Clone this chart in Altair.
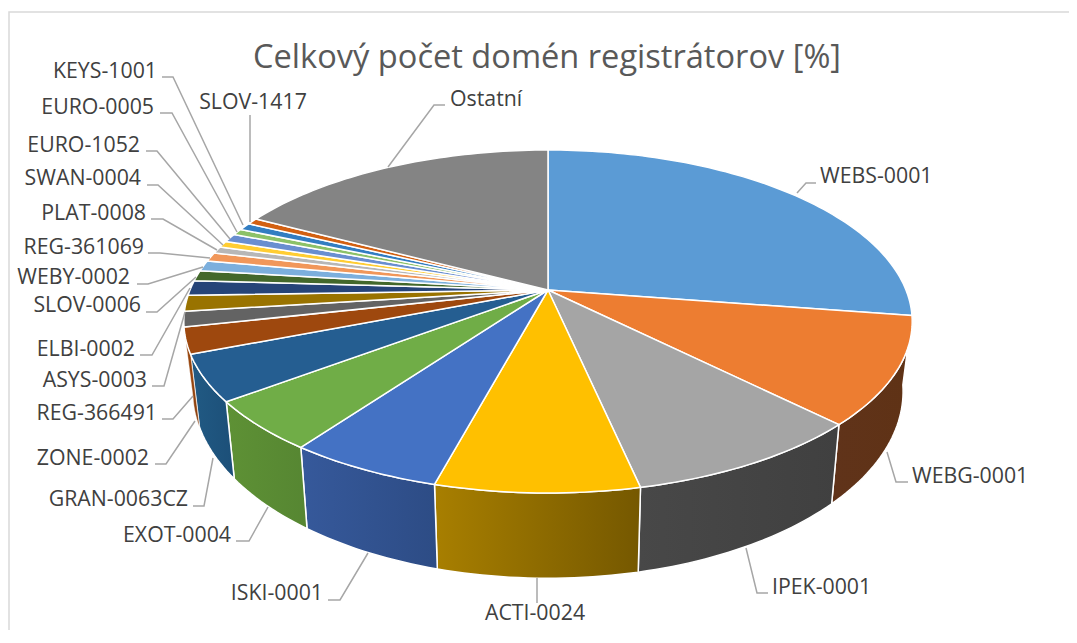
import math
import altair as alt
import pandas as pd

TITLE = "Celkový počet domén registrátorov [%]"
names = ["WEBS-0001", "WEBG-0001", "IPEK-0001", "ACTI-0024", "ISKI-0001", "EXOT-0004",
         "GRAN-0063CZ", "ZONE-0002", "REG-366491", "ASYS-0003", "ELBI-0002", "SLOV-0006",
         "WEBY-0002", "REG-361069", "PLAT-0008", "SWAN-0004", "EURO-1052", "EURO-0005",
         "KEYS-1001", "SLOV-1417", "Ostatní"]
shares = [27.4, 10.1, 9.1, 7.6, 5.8, 4.75, 4.35, 2.46, 1.44, 1.5, 1.4, 1.0,
          1.0, 0.85, 0.65, 0.6, 0.8, 0.6, 0.7, 0.6, 17.3]
colors = ["#5B9BD5", "#ED7D31", "#A5A5A5", "#FFC000", "#4472C4", "#70AD47",
          "#255E91", "#9E480E", "#636363", "#997300", "#264478", "#43682B",
          "#7CAFDD", "#F1975A", "#B7B7B7", "#FFCD33", "#698ED0", "#8CC168",
          "#327DC2", "#D26012", "#848484"]
# side wall shading (left stop, right stop) for the slices whose rim faces the viewer
walls = {"WEBG-0001": ("#60331A", "#5F3215"), "IPEK-0001": ("#484848", "#404040"),
         "ACTI-0024": ("#A87F00", "#755800"), "ISKI-0001": ("#36599B", "#2D4C85"),
         "EXOT-0004": ("#5E9135", "#568632"), "GRAN-0063CZ": ("#215A84", "#1C4F78"),
         "ZONE-0002": ("#9E480E", "#8A3F0C")}

# layout of the labels: right/left text edge, centre line, leader elbow points
label_layout = {
    "KEYS-1001": ("right", 157, 70, [(162, 77), (173, 77), (243, 225)]),
    "EURO-0005": ("right", 154, 106, [(160, 113), (172, 113), (237, 232)]),
    "EURO-1052": ("right", 140, 144, [(146, 151), (157, 151), (230, 239)]),
    "SWAN-0004": ("right", 141, 177, [(147, 185), (158, 185), (223, 245)]),
    "PLAT-0008": ("right", 146, 212, [(151, 219), (163, 219), (217, 250)]),
    "REG-361069": ("right", 144, 246, [(148, 253), (160, 253), (210, 258)]),
    "WEBY-0002": ("right", 130, 276, [(137, 284), (148, 284), (203, 267)]),
    "SLOV-0006": ("right", 141, 304, [(146, 312), (157, 312), (196, 277)]),
    "ELBI-0002": ("right", 135, 348, [(140, 355), (152, 355), (190, 288)]),
    "ASYS-0003": ("right", 147, 379, [(152, 386), (164, 386), (185, 312)]),
    "REG-366491": ("right", 157, 412, [(162, 419), (173, 419), (193, 396)]),
    "ZONE-0002": ("right", 149, 457, [(155, 464), (166, 464), (195, 421)]),
    "GRAN-0063CZ": ("right", 188, 498, [(193, 506), (204, 506), (213, 458)]),
    "EXOT-0004": ("right", 231, 534, [(236, 541), (249, 541), (268, 507)]),
    "ISKI-0001": ("right", 323, 592, [(328, 600), (340, 600), (368, 553)]),
    "ACTI-0024": ("center", 535, 612, [(537, 578), (537, 603)]),
    "IPEK-0001": ("left", 772, 586, [(746, 548), (757, 593), (768, 593)]),
    "WEBG-0001": ("left", 912, 475, [(887, 452), (896, 482), (908, 482)]),
    "WEBS-0001": ("left", 820, 175, [(797, 193), (806, 183), (816, 183)]),
    "SLOV-1417": ("center", 253, 101, [(250, 115), (250, 222)]),
    "Ostatní": ("left", 450, 98, [(445, 105), (434, 105), (388, 167)]),
}

CX, CY, A, B, K = 548.0, 290.0, 358.0, 165.7, 0.1837


def top_point(share_pos):
    th = 2 * math.pi * share_pos / 100.0
    u, v = math.sin(th), math.cos(th)
    s = 1 + K * v
    return CX + A * u / s, CY - B * v / s


def bottom_point(share_pos):
    x, y = top_point(share_pos)
    return CX + 0.975 * (x - CX), 357 + 1.09 * (y - CY)


xs = alt.X("x:Q", scale=alt.Scale(domain=[8, 1069], zero=False, nice=False), axis=None)
ys = alt.Y("y:Q", scale=alt.Scale(domain=[630, 8], zero=False, nice=False), axis=None)
layers = []


def polygon(points, fill, sw=1.5):
    df = pd.DataFrame([{"x": p[0], "y": p[1], "i": i} for i, p in enumerate(points)])
    return alt.Chart(df).mark_line(fill=fill, stroke="white", strokeWidth=sw, interpolate="linear",
                                   strokeJoin="round").encode(x=xs, y=ys, order="i:Q")


# frame
frame = pd.DataFrame({"x": [9, 9, 1069], "y": [630, 12, 12], "i": [0, 1, 2]})
layers.append(alt.Chart(frame).mark_line(color="#D9D9D9", strokeWidth=1.5).encode(x=xs, y=ys, order="i:Q"))

# slice boundaries
starts, pos = [], 0.0
for s in shares:
    starts.append(pos)
    pos += s


def arc(a, b):
    n = max(4, int((b - a) * 3))
    return [a + (b - a) * i / n for i in range(n + 1)]


# side walls
for name, s0, sh in zip(names, starts, shares):
    if name in walls:
        c0, c1 = walls[name]
        fill = alt.LinearGradient(gradient="linear", x1=0, x2=1, y1=0, y2=0,
                                  stops=[alt.GradientStop(color=c0, offset=0),
                                         alt.GradientStop(color=c1, offset=1)])
        pts = arc(s0, s0 + sh)
        poly = [top_point(p) for p in pts] + [bottom_point(p) for p in reversed(pts)]
        poly.append(poly[0])
        layers.append(polygon(poly, fill, 1.5 if name != "ZONE-0002" else 0.4))

# top surface
for name, s0, sh, col in zip(names, starts, shares, colors):
    poly = [(CX, CY)] + [top_point(p) for p in arc(s0, s0 + sh)] + [(CX, CY)]
    layers.append(polygon(poly, col, 1.5))

# leaders
rows = []
for name, (al, lx, ly, path) in label_layout.items():
    for i, (px, py) in enumerate(path):
        rows.append({"name": name, "x": px, "y": py, "i": i})
layers.append(alt.Chart(pd.DataFrame(rows)).mark_line(color="#A6A6A6", strokeWidth=1.5).encode(
    x=xs, y=ys, detail="name:N", order="i:Q"))

# labels
for al in ["left", "right", "center"]:
    lab = pd.DataFrame([{"name": n, "x": v[1], "y": v[2]} for n, v in label_layout.items() if v[0] == al])
    layers.append(alt.Chart(lab).mark_text(align=al, baseline="middle", font="Open Sans", fontSize=21.3, dy=2,
                                           color="#404040").encode(x=xs, y=ys, text="name:N"))

# title
tdf = pd.DataFrame({"x": [547], "y": [56], "t": [TITLE]})
layers.append(alt.Chart(tdf).mark_text(align="center", baseline="middle", font="Open Sans", fontSize=32.6, dy=2,
                                       color="#595959").encode(x=xs, y=ys, text="t:N"))

chart = alt.layer(*layers).properties(
    width=1061, height=622, padding=0, autosize=alt.AutoSizeParams(type="none"), background="white"
).configure_view(stroke=None)
chart.save("out.html", embed_options={"renderer": "svg", "actions": False})
